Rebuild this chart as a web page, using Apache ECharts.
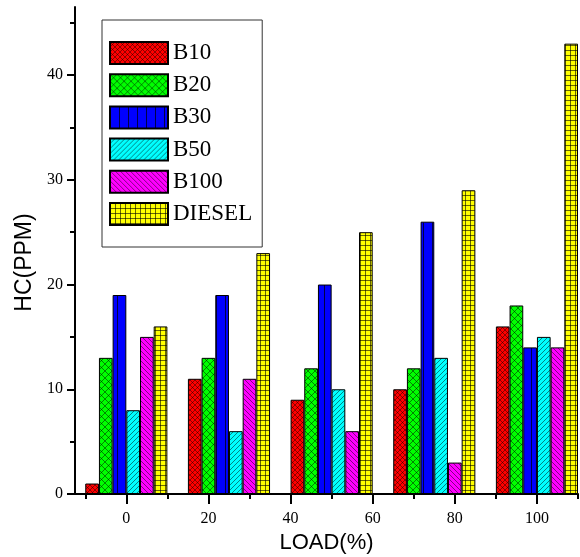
<!DOCTYPE html>
<html>
<head>
<meta charset="utf-8">
<script src="https://cdn.jsdelivr.net/npm/echarts@6/dist/echarts.min.js"></script>
<style>html,body{margin:0;padding:0;background:#fff}#c{width:580px;height:557px}</style>
</head>
<body>
<div id="c"></div>
<script>
const loads = [0, 25, 50, 75, 100];
const seriesNames = ['B10', 'B20', 'B30', 'B50', 'B100', 'DIESEL'];
const b10 = [1, 11, 9, 10, 16];
const b20 = [13, 13, 12, 12, 18];
const b30 = [19, 19, 20, 26, 14];
const b50 = [8, 6, 10, 13, 15];
const b100 = [15, 11, 6, 3, 14];
const diesel = [16, 23, 25, 29, 43];
const xTickLabels = [0, 20, 40, 60, 80, 100];
const xMinorTicks = [-10, 10, 30, 50, 70, 90, 110];
const yTickLabels = [0, 10, 20, 30, 40];
const yMinorTicks = [5, 15, 25, 35, 45];

function pattern(bg, w, h, alpha, draw) {
  const c = document.createElement('canvas');
  c.width = w; c.height = h;
  const ctx = c.getContext('2d');
  ctx.fillStyle = bg; ctx.fillRect(0, 0, w, h);
  ctx.strokeStyle = 'rgba(0,0,0,' + alpha + ')'; ctx.lineWidth = 0.8;
  ctx.beginPath(); draw(ctx, w, h); ctx.stroke();
  return { image: c, repeat: 'repeat' };
}
function slash(ctx, p) { for (let k = -1; k <= 1; k++) { ctx.moveTo(k * p, p); ctx.lineTo(k * p + p, 0); } }
function backslash(ctx, p) { for (let k = -1; k <= 1; k++) { ctx.moveTo(k * p, 0); ctx.lineTo(k * p + p, p); } }

const fills = [
  pattern('#ff0000', 5, 5, 0.55, (c, w) => { slash(c, w); backslash(c, w); }),
  pattern('#00ff00', 7, 7, 0.6, (c, w) => { slash(c, w); backslash(c, w); }),
  pattern('#0000ff', 9, 4, 0.9, (c, w, h) => { c.moveTo(0.5, 0); c.lineTo(0.5, h); }),
  pattern('#00ffff', 5, 5, 0.6, (c, w) => { slash(c, w); }),
  pattern('#ff00ff', 5, 5, 0.6, (c, w) => { backslash(c, w); }),
  pattern('#ffff00', 5, 5, 0.75, (c, w, h) => { c.moveTo(0.5, 0); c.lineTo(0.5, h); c.moveTo(0, 0.5); c.lineTo(w, 0.5); })
];
const allValues = [b10, b20, b30, b50, b100, diesel];

const serif = 'Liberation Serif';
const sans = 'Liberation Sans';
const axisLineStyle = { color: '#000', width: 2 };

const chart = echarts.init(document.getElementById('c'), null, { renderer: 'canvas' });
chart.setOption({
  animation: false,
  backgroundColor: '#fff',
  grid: { left: 75, right: 2, top: 7, bottom: 63, containLabel: false, outerBoundsMode: 'none' },
  legend: {
    orient: 'vertical', left: 102, top: 20, icon: 'rect', selectedMode: false,
    itemWidth: 58, itemHeight: 22, itemGap: 8.2,
    padding: [21, 10, 21, 7],
    borderColor: '#333', borderWidth: 1, backgroundColor: '#fff',
    textStyle: { fontFamily: serif, fontSize: 23, lineHeight: 22, color: '#000' },
    data: seriesNames
  },
  xAxis: [{
    type: 'value', min: -12.5, max: 110, position: 'bottom',
    axisLine: { show: true, onZero: false, lineStyle: axisLineStyle },
    axisTick: { show: true, customValues: xTickLabels, length: 10, lineStyle: axisLineStyle },
    axisLabel: { customValues: xTickLabels, margin: 17, fontFamily: serif, fontSize: 16, color: '#000' },
    splitLine: { show: false },
    name: 'LOAD(%)', nameLocation: 'middle', nameGap: 37,
    nameTextStyle: { fontFamily: sans, fontSize: 22, color: '#000' }
  }, {
    type: 'value', min: -12.5, max: 110, position: 'bottom',
    axisLine: { show: false, onZero: false },
    axisTick: { show: true, customValues: xMinorTicks, length: 5, lineStyle: axisLineStyle },
    axisLabel: { show: false }, splitLine: { show: false }
  }],
  yAxis: [{
    type: 'value', min: 0, max: 46.5, position: 'left',
    axisLine: { show: true, onZero: false, lineStyle: axisLineStyle },
    axisTick: { show: true, customValues: yTickLabels, length: 8, lineStyle: axisLineStyle },
    axisLabel: { customValues: yTickLabels, margin: 12, fontFamily: serif, fontSize: 16, color: '#000' },
    splitLine: { show: false },
    name: 'HC(PPM)', nameLocation: 'middle', nameGap: 38,
    nameTextStyle: { fontFamily: sans, fontSize: 23, color: '#000', padding: [0, 24, 0, 0] }
  }, {
    type: 'value', min: 0, max: 46.5, position: 'left',
    axisLine: { show: false, onZero: false },
    axisTick: { show: true, customValues: yMinorTicks, length: 5, lineStyle: axisLineStyle },
    axisLabel: { show: false }, splitLine: { show: false }
  }],
  series: seriesNames.map((name, i) => ({
    type: 'bar', name: name, xAxisIndex: 0, yAxisIndex: 0,
    barGap: '0%', barCategoryGap: '20%',
    itemStyle: { color: fills[i], borderColor: '#000', borderWidth: 1 },
    emphasis: { disabled: true },
    data: loads.map((x, j) => [x, allValues[i][j]])
  }))
});
</script>
</body>
</html>
